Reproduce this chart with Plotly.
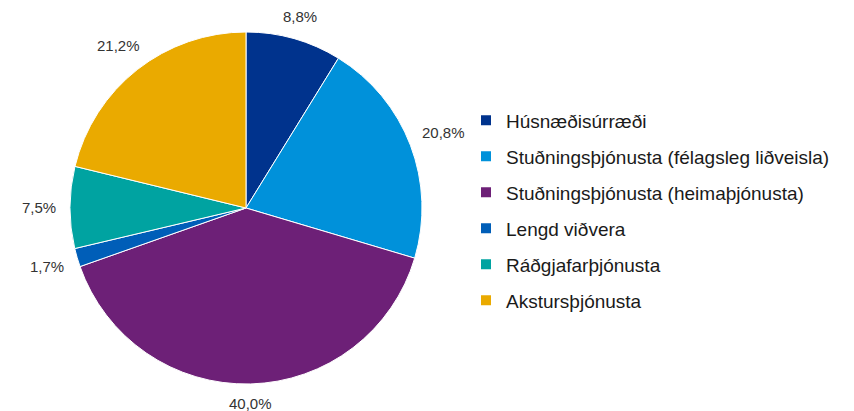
import math
import plotly.graph_objects as go

categories = [
    "Húsnæðisúrræði",
    "Stuðningsþjónusta (félagsleg liðveisla)",
    "Stuðningsþjónusta (heimaþjónusta)",
    "Lengd viðvera",
    "Ráðgjafarþjónusta",
    "Akstursþjónusta",
]
values = [8.8, 20.8, 40.0, 1.7, 7.5, 21.2]
colors = ["#00338D", "#0091DA", "#6D2077", "#005EB8", "#00A3A1", "#EAAA00"]

W, H = 854, 411
# pie geometry in figure pixels (page body adds an 8px offset)
cx, cy, r = 238, 200, 176
FONT = "Liberation Sans, Arial, sans-serif"
LABEL_SIZE = 15

fig = go.Figure()
fig.add_trace(go.Pie(
    labels=categories,
    values=values,
    sort=False,
    direction="clockwise",
    rotation=0,
    marker=dict(colors=colors, line=dict(color="white", width=1)),
    textinfo="none",
    showlegend=False,
    domain=dict(x=[(cx - r) / W, (cx + r) / W],
                y=[(H - cy - r) / H, (H - cy + r) / H]),
    hoverinfo="label+percent",
))

# percentage labels outside each slice, placed from the slice mid-angles
char_w = {",": 0.278, "%": 0.889}
total = sum(values)
cum = 0.0
gap, hh = 14, 5
for v in values:
    mid = (cum + v / 2) / total * 2 * math.pi
    cum += v
    txt = f"{v / total * 100:.1f}%".replace(".", ",")
    hw = sum(char_w.get(ch, 0.556) for ch in txt) * LABEL_SIZE / 2
    s, c = math.sin(mid), math.cos(mid)
    dist = r + gap + abs(s) * hw + abs(c) * hh
    px = cx + dist * s
    py = cy - dist * c
    fig.add_annotation(
        x=px / W, y=1 - py / H, xref="paper", yref="paper",
        text=txt, showarrow=False, xanchor="center", yanchor="middle",
        font=dict(family=FONT, size=LABEL_SIZE, color="#333333"),
    )

for name, col in zip(categories, colors):
    fig.add_trace(go.Scatter(
        x=[None], y=[None], mode="markers", name=name,
        legendgroup=name,
        marker=dict(symbol="square", size=10, color=col),
        hoverinfo="skip",
    ))

fig.update_layout(
    width=W, height=H,
    margin=dict(l=0, r=0, t=0, b=0),
    paper_bgcolor="white", plot_bgcolor="white",
    xaxis=dict(visible=False), yaxis=dict(visible=False),
    legend=dict(
        x=458 / W, y=1 - 93.5 / H, xanchor="left", yanchor="top",
        font=dict(family=FONT, size=19, color="#1a1a1a"),
        tracegroupgap=8.3,
        itemclick=False, itemdoubleclick=False,
        bgcolor="rgba(0,0,0,0)",
    ),
)

fig.write_html("out.html")
